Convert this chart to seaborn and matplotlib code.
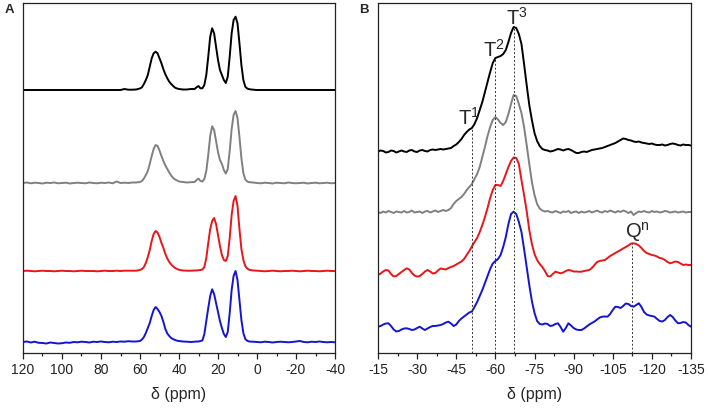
import numpy as np
import pandas as pd
import seaborn as sns
import matplotlib
matplotlib.use('Agg')
import matplotlib.pyplot as plt
from matplotlib.ticker import MultipleLocator

sns.set_style('white')
plt.rcParams['font.family'] = ['Liberation Sans', 'DejaVu Sans']
plt.rcParams['mathtext.fontset'] = 'custom'
plt.rcParams['mathtext.rm'] = 'Liberation Sans'
plt.rcParams['mathtext.it'] = 'Liberation Sans:italic'
plt.rcParams['axes.unicode_minus'] = False

samples = ['s1', 's2', 's3', 's4']
colors = ['#000000', '#808080', '#e8161a', '#1414d2']

# ---- panel A: 13C spectra (ppm grid, intensities above each baseline) ----
a_ppm = (list(range(120, 63, -2)) + [62, 60] + list(range(59, 39, -1)) + [38, 36, 34, 32]
         + list(range(31, 3, -1)) + [2] + list(range(0, -41, -2)))

a_black = [0, 0, 0, 0, 0, 0, 0, 0, 0, 0, 0, 0, 0, 0, 0, 0, 0, 0, 0, 0, 0, 0, 0, 0, 0, 0, 1, 0.3, 0.3,
           0.5, 1.5,
           2.7, 6, 10, 15, 23.3, 31.7, 36.7, 38.3, 36.7, 31.7, 26.7, 20.7, 15.7, 11.7, 8.3, 6, 4, 2.3, 1.5, 1,
           0.5, 0.5, 1, 1,
           2.7, 4, 1.7, 1.7, 5, 15, 33.3, 53.3, 61.7, 56.7, 43.3, 30, 20, 15, 10, 7, 13.3, 33.3, 56.7, 70,
           73.3, 66.7, 46.7, 25, 10, 3.3, 1.5, 0.8,
           0.3,
           0, 0, 0, 0, 0, 0, 0, 0, 0, 0, 0, 0, 0, 0, 0, 0, 0, 0, 0, 0, 0]
a_gray = [0, 0.5, -0.3, 0.3, 0, -0.5, 0.3, 0, 0.5, -0.3, 0, 0.3, -0.5, 0, 0.3, 0, -0.3, 0.5, 0, -0.3,
          0.3, 0, 0.5, -0.3, 1.5, 0, 0.3, 0, 0.5,
          0.5, 1,
          2, 4.5, 8, 12, 19, 27, 34, 38, 37, 32.5, 27, 22, 17.5, 14, 10.5, 7.5, 5, 3.5, 2.5, 1.5,
          1, 0.5, 0.8, 1,
          3, 4.4, 2, 1.5, 4, 12, 28, 47, 56.7, 53, 42, 31, 23, 19, 13, 9.4, 14, 32, 54, 68,
          72, 65, 46, 25, 10, 3.5, 1.5, 0.8,
          0.5,
          0, -0.3, 0.3, 0, -0.5, 0.3, 0, -0.3, 0.5, 0, -0.3, 0, 0.3, -0.5, 0, 0.3, -0.3, 0, 0.3, -0.3, 0]
a_red = [0, 0.3, 0, -0.3, 0, 0.3, 0, 0, -0.3, 0, 0.3, 0, 0, -0.3, 0, 0.3, 0, 0, 0, -0.3,
         0, 0.3, 0, 0, 0.3, 0, 0.3, 0.3, 0.3,
         0.3, 1,
         2, 4, 8, 14, 21, 30, 37, 40, 38.5, 34, 28, 23, 17, 12.5, 9, 6.5, 4.5, 3, 2, 1.2,
         0.5, 0.3, 0.3, 0.5,
         0.5, 0.8, 1, 1.5, 4, 13, 28, 42, 50, 53, 47, 36, 25, 16, 11, 10, 15, 33, 56, 70,
         75, 65, 42, 22, 11, 5, 2.5, 1.2,
         0.5,
         0.3, 0, -0.3, 0, 0.3, 0, -0.3, 0, 0, 0.3, 0, -0.3, 0, 0.3, 0, 0, -0.3, 0, 0.3, 0, 0]
a_blue = [0, 0.5, -0.5, 0.3, -0.8, -1, -1.5, -0.5, -1, -1.5, -1.2, -0.5, -0.8, 0, -0.3, 0.3, 0, -0.5, 0.3, 0,
          0.5, 0, -0.3, 0.3, 0, 0.5, 0.3, 0.8, 0.5,
          0.5, 1,
          2.5, 5, 9, 14, 19, 26, 32, 35, 33, 30, 26, 20, 13, 8.5, 6, 4, 2.8, 2, 1.3, 1,
          0.5, 0.3, 0, 0.3,
          0.5, 0.5, 1, 1.5, 8, 21, 34, 46, 52.7, 48, 39, 30, 21, 14, 8, 5, 10, 29, 52, 66,
          71, 62, 42, 22, 9, 3, 1.2, 0.5,
          0.3,
          0, -0.3, 0.3, 0, -0.5, 0, 0.3, 0, -0.3, 0, 0.5, 1, 0, -0.3, 0.3, 0, 0.5, 0, -0.3, 0, -0.3]

# ---- panel B: 29Si spectra, 1 ppm steps from -15 to -135 ----
b_ppm = list(range(-15, -136, -1))

b_black = [-1.5, -0.5, -1, -2.5, -2, -0.5, -1, -2.5, -1.5, -0.5,
           -1.5, -2, -0.5, 0, -1.5, -2, -0.5, 0, -1, -1.5,
           0, 0.5, 0, 0.5, 1, 0.5, 1, 1.5, 2, 4,
           5.5, 8, 11, 15, 18, 20.5, 22, 26, 32, 40,
           48, 58, 68, 78, 87, 92, 93, 94, 96, 100,
           108, 117, 123, 122, 116, 106, 86, 65, 45, 30,
           17, 9, 4, 1, 0, -0.5, -1.5, -1, 0, 1,
           0.5, -0.5, 0.5, 1, 0, -1.5, -3, -3, -2, -1.5,
           -2, -1, 0, 0.5, 1, 1.5, 2, 3, 4, 5,
           6, 7, 8.5, 10, 11.5, 11, 10, 9.5, 8.5, 8,
           8.5, 7.5, 7, 6.5, 6, 6.5, 5.5, 5, 5, 5.5,
           4.5, 5, 6, 6.5, 6, 5, 4.5, 5.5, 5, 5,
           4.5]
b_gray = [0, -1, 0.5, -0.5, 1, 0, -1, 0.5, 0, -0.5,
          1, -0.5, 0, 1.5, -0.5, 0, 0.5, -1, 0.5, 1,
          -0.5, 0.5, 1.5, 0, 1, 2, 1, 2, 4, 8,
          11, 13, 15, 18, 22, 25, 28, 33, 38, 45,
          55, 65, 76, 85, 92, 95, 92.5, 89, 87, 90,
          98, 108, 117, 116, 108, 99, 85, 67, 48, 30,
          17, 8, 3.5, 1.5, 0.5, 1, 0, -0.5, 1, 0,
          -1, 0.5, 0, 1, -1, 0, 0.5, -1, 0.5, -0.5,
          0, 1, -0.5, 0.5, 1.5, 0, -0.5, 1, 0, 1.5,
          0.5, -0.5, 1, 0, 1.5, 0.5, -1, 0.5, -3, -1,
          0.5, 0, 1, 0, -0.5, 1, 0, 0.5, -0.5, 0,
          1, 0.5, -0.5, 0, 0.5, -0.5, 0, 0.5, -0.5, 0,
          0]
b_red = [-2, -0.5, 1.5, 3, 2.5, -1, -3.5, -3, -1, 1,
         3, 4.7, 3.5, 0, -2.5, -3.7, -3, -1, 1.5, 3,
         1.5, -0.5, 0, 2.5, 4.5, 4, 3.5, 5, 6, 7,
         8.5, 10, 11.5, 14, 18, 22, 26.5, 31, 35, 41,
         48, 56, 65, 75, 83, 88, 88, 87, 92, 99,
         106, 112, 115.5, 115, 109, 93, 78, 62, 43, 29,
         19, 13, 9, 6, 2, -3, -3.5, -1, 1.3, 0.5,
         -0.3, 0.5, 2, 3, 2.5, 1.5, 1.5, 1.3, 1.3, 2,
         2.5, 3, 5, 8, 11, 12, 12.5, 13, 15, 17,
         18.5, 20, 21.5, 23, 24.5, 26, 27.5, 29.5, 29.7, 29,
         27.5, 25, 22, 20, 19, 18, 17.5, 16.5, 15, 14.5,
         13, 11, 9.7, 10.5, 11.5, 11, 9.5, 8, 8.5, 8,
         8]
b_blue = [0.3, 1, 2.5, 3.5, 3.7, 1, -2.5, -4.5, -4, -2.5,
          -1.5, -1.3, -2, -3, -2.5, -1, 0.3, -1.5, -3, -1.5,
          0, 1, 1, 1.5, 2, 3, 4.5, 5.3, 3.5, 1,
          2.5, 6, 8.5, 10.5, 12.5, 14.5, 15.5, 20, 25, 31,
          37, 44, 51, 58, 63.5, 66, 68, 72, 80, 90,
          103, 113, 115.3, 113, 105, 95, 78, 60, 42, 26,
          14, 6, 3, 2.5, 3.5, 3, 1, 1.5, 3, 3.7,
          0, -4.7, -1, 3.7, 1.5, -1, -2.5, -3, -3, -1.5,
          0.5, 2.5, 4, 5.5, 7.5, 9.5, 10.3, 10.5, 10.3, 13,
          17, 20.3, 20, 19, 21, 23.5, 23, 21, 20.3, 22,
          23.7, 20, 15, 12.5, 11.5, 11, 10.3, 8, 6, 5.5,
          7, 10, 12, 10, 6.5, 3.7, 4, 5, 4.5, 2,
          0.3]

# peak assignments in panel B
t_labels = [r'T$^1$', r'T$^2$', r'T$^3$']
t_ppm = [-51, -60, -67.3]
q_label = r'Q$^{\mathrm{n}}$'
q_ppm = -112.5

offsets_a = [263, 170, 82, 11]
offsets_b = [203, 141, 80, 26]


def stack(ppm, traces, offsets):
    frames = []
    for name, vals, off in zip(samples, traces, offsets):
        frames.append(pd.DataFrame({'ppm': ppm, 'y': np.asarray(vals, float) + off, 'sample': name}))
    return pd.concat(frames, ignore_index=True)


df_a = stack(a_ppm, [a_black, a_gray, a_red, a_blue], offsets_a)
df_b = stack(b_ppm, [b_black, b_gray, b_red, b_blue], offsets_b)

fig = plt.figure(figsize=(7.08, 4.08), dpi=100)
ax_a = fig.add_axes([23 / 708, 55 / 408, 312 / 708, 350 / 408])
ax_b = fig.add_axes([378 / 708, 55 / 408, 313 / 708, 350 / 408])

for ax, df in ((ax_a, df_a), (ax_b, df_b)):
    sns.lineplot(data=df, x='ppm', y='y', hue='sample', hue_order=samples, palette=colors,
                 estimator=None, legend=False, linewidth=1.4, ax=ax)
    ax.set_ylim(0, 350)
    ax.set_yticks([])
    ax.set_ylabel('')
    ax.set_xlabel('δ (ppm)', fontsize=11.5, labelpad=7.5)
    for s in ax.spines.values():
        s.set_visible(True)
        s.set_color('#222222')
        s.set_linewidth(0.9)
    ax.tick_params(axis='x', which='both', bottom=True, direction='out', width=0.9, colors='#222222',
                   labelcolor='#222222', labelsize=10, pad=3)
    ax.tick_params(axis='x', which='major', length=4)
    ax.tick_params(axis='x', which='minor', length=2.5)

ax_a.set_xlim(120, -40)
ax_a.xaxis.set_major_locator(MultipleLocator(20))
ax_a.xaxis.set_minor_locator(MultipleLocator(10))
ax_b.set_xlim(-15, -135)
ax_b.xaxis.set_major_locator(MultipleLocator(15))
ax_b.xaxis.set_minor_locator(MultipleLocator(7.5))

# dashed guide lines and labels
xp = -np.asarray(b_ppm, float)
label_dx = [1.0, 0.5, -0.8]
label_dy = [3, 1, 3]
for lab, p, dx, dy in zip(t_labels, t_ppm, label_dx, label_dy):
    top = offsets_b[0] + np.interp(-p, xp, b_black)
    ax_b.plot([p, p], [0, top], ls=(0, (2, 2)), color='#333333', lw=0.7)
    ax_b.text(p + dx, top + dy, lab, ha='center', va='baseline', fontsize=14.5)
q_top = offsets_b[2] + np.interp(-q_ppm, xp, b_red)
ax_b.plot([q_ppm, q_ppm], [0, q_top], ls=(0, (2, 2)), color='#333333', lw=0.7)
ax_b.text(q_ppm - 1.8, q_top + 6, q_label, ha='center', va='baseline', fontsize=14.5)

fig.text(5 / 708, 1 - 4 / 408, 'A', fontweight='bold', fontsize=9.5, ha='left', va='top')
fig.text(359 / 708, 1 - 4 / 408, 'B', fontweight='bold', fontsize=9.5, ha='left', va='top')

fig.savefig('out.png', dpi=100)
